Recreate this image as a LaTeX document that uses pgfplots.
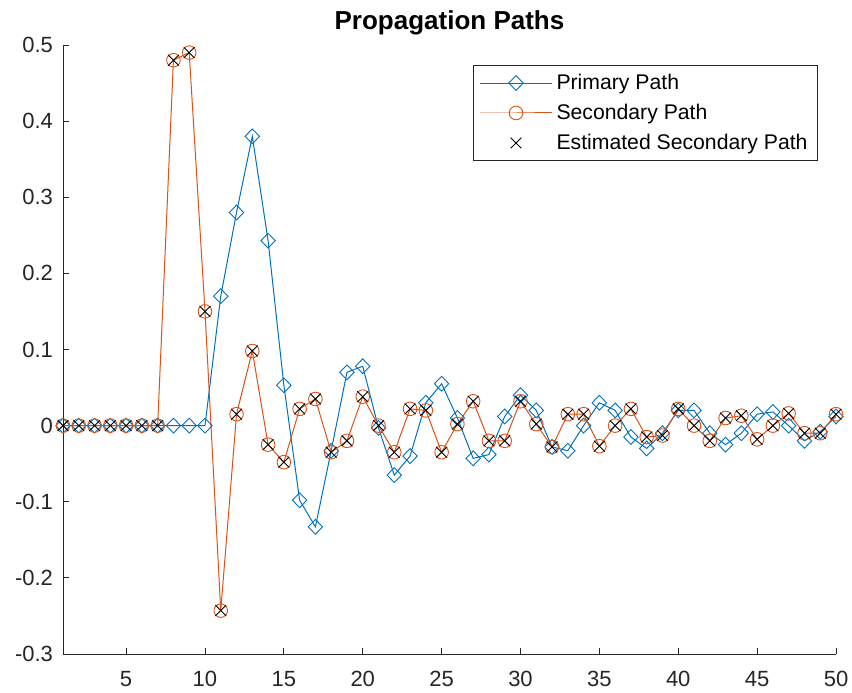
\documentclass[border=0pt]{standalone}
\usepackage{pgfplots}
\pgfplotsset{compat=1.18}
\usepackage{pgfplotstable}
\usepackage{fontspec}
\setmainfont{Liberation Sans}
\definecolor{mblue}{rgb}{0,0.447,0.741}
\definecolor{morange}{rgb}{0.85,0.325,0.098}
\definecolor{axgray}{rgb}{0.15,0.15,0.15}

\pgfplotstableread{
n p s
1 0 0
2 0 0
3 0 0
4 0 0
5 0 0
6 0 0
7 0 0
8 0 0.48
9 0 0.49
10 0 0.15
11 0.17 -0.243
12 0.28 0.015
13 0.38 0.098
14 0.243 -0.025
15 0.053 -0.048
16 -0.098 0.022
17 -0.133 0.035
18 -0.033 -0.035
19 0.07 -0.02
20 0.078 0.038
21 -0.003 0
22 -0.065 -0.035
23 -0.04 0.022
24 0.03 0.02
25 0.055 -0.035
26 0.01 0.002
27 -0.043 0.032
28 -0.038 -0.02
29 0.012 -0.02
30 0.04 0.032
31 0.02 0.002
32 -0.028 -0.028
33 -0.033 0.015
34 0.0 0.015
35 0.03 -0.027
36 0.02 0
37 -0.015 0.022
38 -0.03 -0.015
39 -0.01 -0.013
40 0.02 0.022
41 0.02 0
42 -0.01 -0.02
43 -0.025 0.01
44 -0.01 0.013
45 0.015 -0.018
46 0.018 0
47 0.0 0.016
48 -0.02 -0.01
49 -0.008 -0.01
50 0.012 0.015
}\paths

\begin{document}
\begin{tikzpicture}
\begin{axis}[
  width=386.5pt, height=304.5pt, scale only axis,
  xmin=1, xmax=50, ymin=-0.3, ymax=0.5,
  xtick={5,10,...,50},
  ytick={-0.3,-0.2,...,0.5},
  axis x line=bottom, axis y line=left,
  axis line style={-, axgray, line width=0.45pt},
  tick align=inside,
  major tick length=3pt,
  tick style={axgray, line width=0.45pt},
  /pgf/number format/assume math mode=true,
  /pgf/number format/fixed,
  ticklabel style={font=\fontsize{11}{13}\selectfont, text=axgray},
  yticklabel style={xshift=-1.5pt},
  xticklabel style={yshift=-5pt},
  title={\textbf{Propagation Paths}},
  title style={font=\fontsize{13}{15}\selectfont, at={(0.5,1)}, anchor=base, yshift=1.5pt},
  legend style={at={(1,1)}, anchor=north east, xshift=-9pt, yshift=-10pt,
    draw=axgray, line width=0.45pt,
    font=\fontsize{10.6}{12.5}\selectfont, row sep=1.8pt, inner xsep=3pt, inner ysep=2.2pt,
    cells={anchor=west}},
  legend cell align=left,
  legend image code/.code={\draw[mark repeat=2, mark phase=2] plot coordinates {(0pt,0pt) (18pt,0pt) (36pt,0pt)};},
]
\addplot[mblue, line width=0.5pt, mark=diamond, mark size=3.7pt, mark options={solid, line width=0.45pt, xscale=1.3}] table[x=n, y=p] {\paths};
\addlegendentry{Primary Path}
\addplot[morange, line width=0.5pt, mark=o, mark size=3.4pt, mark options={solid, line width=0.45pt}] table[x=n, y=s] {\paths};
\addlegendentry{Secondary Path}
\addplot[only marks, black, mark=x, mark size=3.8pt, mark options={line width=0.45pt}] table[x=n, y=s] {\paths};
\addlegendentry{Estimated Secondary Path}
\end{axis}
\pgfresetboundingbox
\path ([shift={(-31.5pt,-19.5pt)}]current axis.south west) rectangle ([shift={(8pt,22.5pt)}]current axis.north east);
\end{tikzpicture}
\end{document}
